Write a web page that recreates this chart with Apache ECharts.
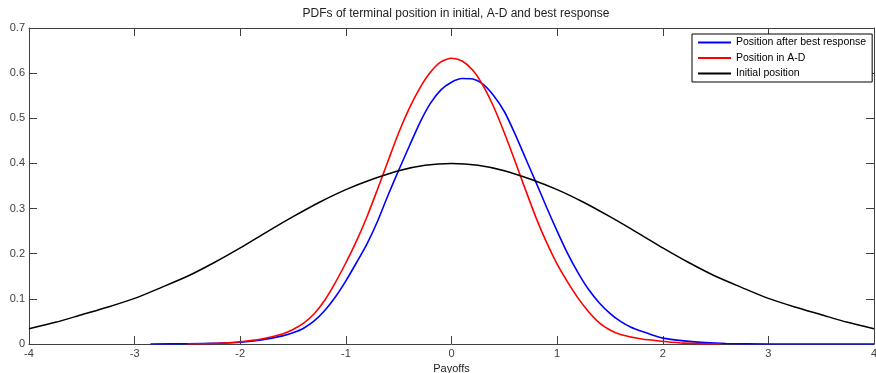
<!DOCTYPE html>
<html>
<head>
<meta charset="utf-8">
<script src="https://cdn.jsdelivr.net/npm/echarts@6/dist/echarts.min.js"></script>
<style>
  html, body { margin: 0; padding: 0; background: #fff; }
  #chart { width: 876px; height: 373px; }
</style>
</head>
<body>
<div id="chart"></div>
<script>
// best response (blue)
var blueX = [-2.85, -2.5, -2.2, -2.0, -1.8, -1.6, -1.5, -1.4, -1.3, -1.2, -1.1, -1.0, -0.9, -0.8, -0.7, -0.6, -0.5, -0.4, -0.3, -0.2, -0.1, 0, 0.1, 0.2, 0.3, 0.4, 0.5, 0.6, 0.7, 0.8, 0.9, 1.0, 1.1, 1.2, 1.3, 1.4, 1.5, 1.6, 1.7, 1.8, 1.9, 2.0, 2.2, 2.4, 2.6, 3.0, 4.0];
var blueY = [0, 0.0005, 0.002, 0.004, 0.009, 0.018, 0.025, 0.035, 0.051, 0.074, 0.104, 0.14, 0.18, 0.222, 0.272, 0.33, 0.385, 0.438, 0.49, 0.533, 0.563, 0.58, 0.588, 0.587, 0.575, 0.55, 0.515, 0.466, 0.412, 0.358, 0.303, 0.25, 0.2, 0.157, 0.12, 0.091, 0.068, 0.05, 0.037, 0.028, 0.02, 0.013, 0.007, 0.003, 0.001, 0, 0];

// A-D (red)
var redX = [-2.5, -2.2, -2.0, -1.8, -1.6, -1.5, -1.4, -1.3, -1.2, -1.1, -1.0, -0.9, -0.8, -0.7, -0.6, -0.5, -0.4, -0.3, -0.2, -0.1, 0, 0.1, 0.2, 0.3, 0.4, 0.5, 0.6, 0.7, 0.8, 0.9, 1.0, 1.1, 1.2, 1.3, 1.4, 1.5, 1.6, 1.8, 2.0, 2.2, 2.55];
var redY = [0, 0.0015, 0.005, 0.011, 0.022, 0.032, 0.046, 0.067, 0.097, 0.136, 0.18, 0.228, 0.282, 0.343, 0.406, 0.468, 0.522, 0.567, 0.602, 0.625, 0.633, 0.627, 0.607, 0.572, 0.525, 0.468, 0.406, 0.342, 0.28, 0.225, 0.177, 0.137, 0.101, 0.071, 0.047, 0.031, 0.021, 0.011, 0.006, 0.002, 0];

// initial position (black)
var blackX = [-4, -3.75, -3.5, -3.25, -3, -2.75, -2.5, -2.25, -2, -1.75, -1.5, -1.25, -1, -0.75, -0.5, -0.25, 0, 0.25, 0.5, 0.75, 1, 1.25, 1.5, 1.75, 2, 2.25, 2.5, 2.75, 3, 3.25, 3.5, 3.75, 4];
var blackY = [0.034, 0.048, 0.065, 0.082, 0.101, 0.125, 0.15, 0.18, 0.213, 0.248, 0.282, 0.314, 0.342, 0.365, 0.384, 0.396, 0.4, 0.396, 0.384, 0.365, 0.342, 0.314, 0.282, 0.248, 0.213, 0.18, 0.15, 0.125, 0.101, 0.082, 0.065, 0.048, 0.034];

var names = ['Position after best response', 'Position in A-D', 'Initial position'];
var colors = ['#0000ff', '#ff0000', '#000000'];
var xTicks = [-4, 4, 1];
var yTicks = [0, 0.7, 0.1];

function pairs(xs, ys) {
    var out = [];
    for (var i = 0; i < xs.length; i++) out.push([xs[i], ys[i]]);
    return out;
}

var chart = echarts.init(document.getElementById('chart'));

var axisLine = { show: true, onZero: false, lineStyle: { color: '#404040', width: 1 } };
var tick = { show: true, inside: true, length: 8, lineStyle: { color: '#404040' } };
var lbl = { color: '#404040', fontSize: 11, fontFamily: 'Liberation Sans, Arial' };

var option = {
    animation: false,
    title: {
        text: 'PDFs of terminal position in initial, A-D and best response',
        left: 451,
        textAlign: 'center',
        top: 3,
        textStyle: { fontSize: 12, fontWeight: 'normal', color: '#222', fontFamily: 'Liberation Sans, Arial' }
    },
    grid: { left: 29, right: 2, top: 28, bottom: 29, containLabel: false, outerBoundsMode: 'none' },
    legend: {
        data: names,
        orient: 'vertical',
        left: 692,
        top: 34,
        icon: 'rect',
        itemWidth: 33,
        itemHeight: 2,
        itemGap: 2.5,
        padding: [2, 6, 2, 6],
        borderColor: '#000',
        borderWidth: 1,
        backgroundColor: '#fff',
        textStyle: { fontSize: 10.5, lineHeight: 13, color: '#000', fontFamily: 'Liberation Sans, Arial' }
    },
    xAxis: [
        {
            type: 'value', min: xTicks[0], max: xTicks[1], interval: xTicks[2],
            name: 'Payoffs', nameLocation: 'middle', nameGap: 17,
            nameTextStyle: { color: '#222', fontSize: 11, fontFamily: 'Liberation Sans, Arial' },
            axisLine: axisLine, axisTick: tick, splitLine: { show: false },
            axisLabel: Object.assign({ margin: 4 }, lbl)
        },
        {
            type: 'value', min: xTicks[0], max: xTicks[1], interval: xTicks[2], position: 'top',
            axisLine: axisLine, axisTick: tick, splitLine: { show: false }, axisLabel: { show: false }
        }
    ],
    yAxis: [
        {
            type: 'value', min: yTicks[0], max: yTicks[1], interval: yTicks[2],
            axisLine: axisLine, axisTick: tick, splitLine: { show: false },
            axisLabel: Object.assign({ margin: 4, formatter: function (v) { return v === 0 ? '0' : v.toFixed(1); } }, lbl)
        },
        {
            type: 'value', min: yTicks[0], max: yTicks[1], interval: yTicks[2], position: 'right',
            axisLine: axisLine, axisTick: tick, splitLine: { show: false }, axisLabel: { show: false }
        }
    ],
    series: [
        { name: names[0], type: 'line', data: pairs(blueX, blueY), smooth: 0.25, showSymbol: false, lineStyle: { color: colors[0], width: 1.6 }, itemStyle: { color: colors[0] } },
        { name: names[1], type: 'line', data: pairs(redX, redY), smooth: 0.25, showSymbol: false, lineStyle: { color: colors[1], width: 1.6 }, itemStyle: { color: colors[1] } },
        { name: names[2], type: 'line', data: pairs(blackX, blackY), smooth: 0.25, showSymbol: false, lineStyle: { color: colors[2], width: 1.5 }, itemStyle: { color: colors[2] } }
    ]
};

chart.setOption(option);
</script>
</body>
</html>
